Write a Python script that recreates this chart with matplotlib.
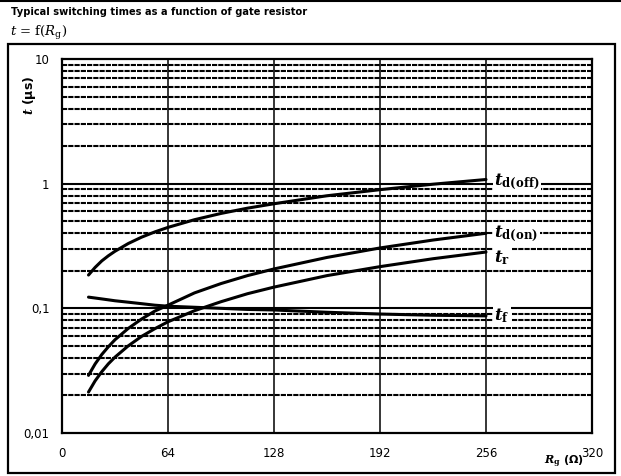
import numpy as np
import matplotlib
matplotlib.use("Agg")
import matplotlib.pyplot as plt
from matplotlib.patches import Rectangle
from matplotlib.lines import Line2D

plt.rcParams["mathtext.fontset"] = "dejavuserif"

# gate resistor values (ohm)
rg = [16, 20, 24, 28, 32, 40, 48, 56, 64, 80, 96, 112, 128, 160, 192, 224, 256]

# switching times (us)
td_off = [0.185, 0.213, 0.24, 0.264, 0.287, 0.331, 0.372, 0.41, 0.446, 0.514,
          0.577, 0.636, 0.69, 0.80, 0.895, 0.99, 1.08]
td_on = [0.029, 0.0358, 0.0426, 0.0492, 0.056, 0.069, 0.082, 0.095, 0.106, 0.133,
         0.158, 0.183, 0.207, 0.256, 0.305, 0.353, 0.40]
t_r = [0.0213, 0.0262, 0.031, 0.0359, 0.0406, 0.050, 0.0595, 0.0686, 0.078, 0.0957,
       0.113, 0.131, 0.148, 0.183, 0.216, 0.25, 0.283]
t_f = [0.123, 0.121, 0.119, 0.117, 0.115, 0.112, 0.109, 0.106, 0.104, 0.102,
       0.100, 0.098, 0.097, 0.093, 0.090, 0.088, 0.087]

series = [
    (td_off, r"$\mathbfit{t}_{\mathbf{d(off)}}$", 1.03),
    (td_on, r"$\mathbfit{t}_{\mathbf{d(on)}}$", 0.395),
    (t_r, r"$\mathbfit{t}_{\mathbf{r}}$", 0.255),
    (t_f, r"$\mathbfit{t}_{\mathbf{f}}$", 0.087),
]

x_ticks = [0, 64, 128, 192, 256, 320]
y_ticks = [0.01, 0.1, 1, 10]
y_tick_labels = ["0,01", "0,1", "1", "10"]

W, H = 621, 476
fig = plt.figure(figsize=(W / 100, H / 100), dpi=100)
ax = fig.add_axes([62 / W, 1 - 433 / H, (592 - 62) / W, (433 - 59) / H])

ax.set_yscale("log")
ax.set_xlim(0, 320)
ax.set_ylim(0.01, 10)

# grid
for dec in [0.01, 0.1, 1]:
    for m in range(2, 10):
        ax.axhline(dec * m, color="black", lw=1.5, ls=(0, (2.5, 0.5)), zorder=1)
for yv in [0.1, 1]:
    ax.axhline(yv, color="black", lw=1.5, zorder=1)
for xv in [64, 128, 192, 256]:
    ax.axvline(xv, color="black", lw=1.1, zorder=1)

for ys, lab, ylab in series:
    ax.plot(rg, ys, color="black", lw=2.2, solid_capstyle="round",
            solid_joinstyle="round", zorder=3)
    ax.text(261, ylab, lab, fontsize=12, va="center", ha="left", zorder=4,
            bbox=dict(facecolor="white", edgecolor="none", pad=1.0))

ax.set_xticks(x_ticks)
ax.set_xticklabels([str(v) for v in x_ticks], fontsize=8.5)
ax.set_yticks(y_ticks)
ax.set_yticklabels(y_tick_labels, fontsize=8.5)
ax.yaxis.set_minor_locator(matplotlib.ticker.NullLocator())
ax.tick_params(length=0, pad=9)
ax.tick_params(axis="x", pad=10)
for sp in ax.spines.values():
    sp.set_linewidth(1.6)

# labels and frame
fig.text(30 / W, 1 - 95 / H, r"$\mathbfit{t}$ (µs)", rotation=90, fontsize=9,
         fontweight="bold", ha="center", va="center")
fig.text(544 / W, 1 - 462 / H, r"$\mathbfit{R}_{\mathbf{g}}$ (Ω)", fontsize=8,
         fontweight="bold", ha="left", va="center")
fig.text(11 / W, 1 - 12 / H, "Typical switching times as a function of gate resistor",
         fontsize=7.1, fontweight="bold", ha="left", va="center")
fig.text(10 / W, 1 - 33 / H, r"$t$ = f($R_{\rm g}$)", fontsize=9.5,
         family="DejaVu Serif", ha="left", va="center")

fig.add_artist(Rectangle((8 / W, 1 - 473 / H), (615 - 8) / W, (473 - 44) / H,
                         transform=fig.transFigure, fill=False, lw=1.6, ec="black"))
fig.add_artist(Line2D([0, 1], [1 - 1 / H, 1 - 1 / H], transform=fig.transFigure,
                      color="black", lw=1.5))

fig.savefig("out.png", dpi=100)
